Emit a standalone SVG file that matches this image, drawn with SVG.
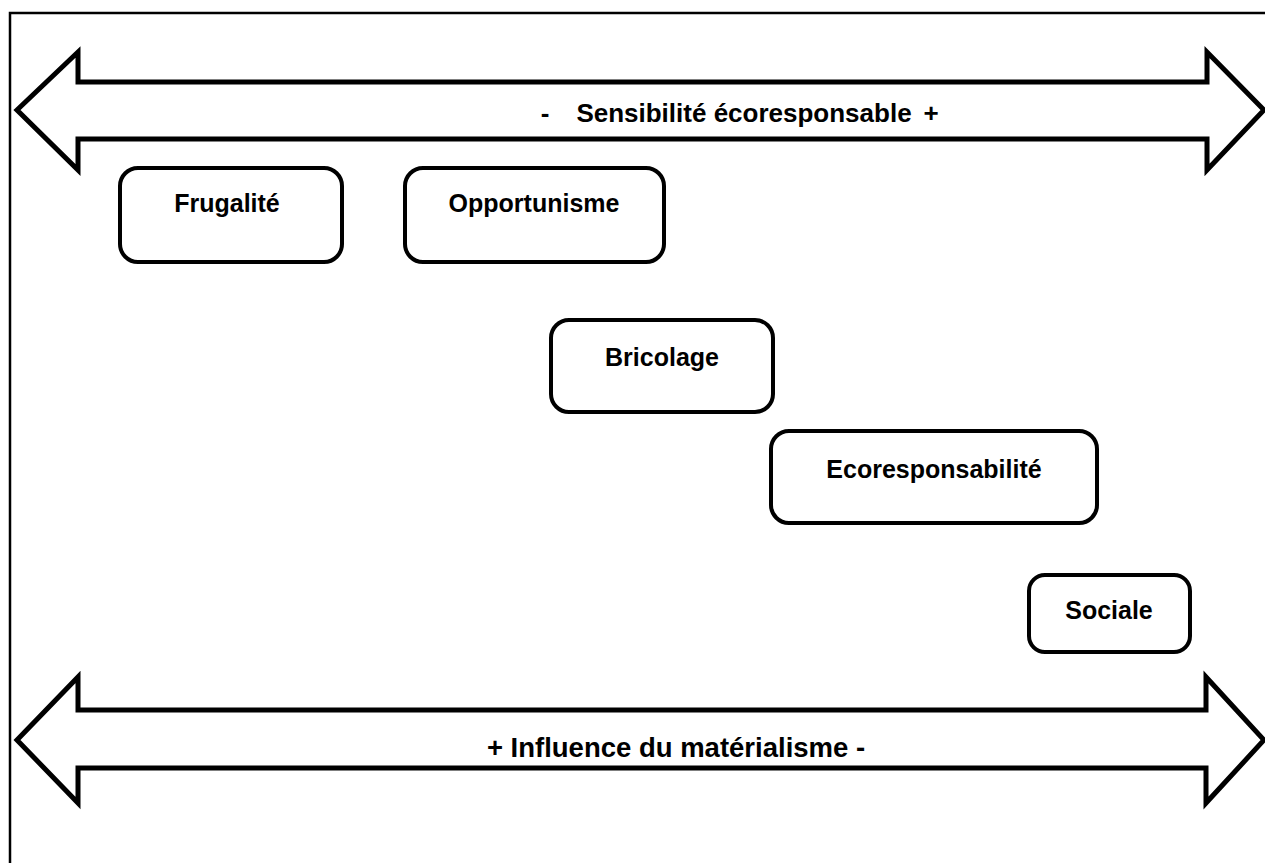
<svg xmlns="http://www.w3.org/2000/svg" width="1265" height="863" viewBox="0 0 1265 863">
<style>
.frame{fill:none;stroke:#000;stroke-width:2.5}
.arrow{fill:#fff;stroke:#000;stroke-width:5;stroke-linejoin:miter}
.box{fill:#fff;stroke:#000;stroke-width:4}
.t{font-family:"Liberation Sans",Arial,sans-serif;font-weight:bold;font-size:25px;fill:#000;text-anchor:middle}
.l{font-size:26px}
.b{font-size:27.5px}
</style>
<rect x="0" y="0" width="1265" height="863" fill="#fff"/>
<rect class="frame" x="10" y="13" width="1270" height="870"/>
<g id="connectors">
<g id="arrow-top">
<polygon class="arrow" points="17,110 78,52 78,82 1207,82 1207,52 1264,110 1207,170 1207,139 78,139 78,170"/>
<text class="t l" x="545" y="122">-</text>
<text class="t l" x="744" y="122">Sensibilité écoresponsable</text>
<text class="t l" x="931" y="122">+</text>
</g>
<g id="arrow-bottom">
<polygon class="arrow" points="17,740 78,677 78,710 1206,710 1206,677 1264,740 1206,803 1206,768 78,768 78,803"/>
<text class="t b" x="676" y="757">+ Influence du matérialisme -</text>
</g>
</g>
<g id="frugalite"><rect class="box" x="120" y="168" width="222" height="94" rx="18"/><text class="t" x="227" y="212">Frugalité</text></g>
<g id="opportunisme"><rect class="box" x="405" y="168" width="259" height="94" rx="18"/><text class="t" x="534" y="212">Opportunisme</text></g>
<g id="bricolage"><rect class="box" x="551" y="320" width="222" height="92" rx="18"/><text class="t" x="662" y="366">Bricolage</text></g>
<g id="ecoresponsabilite"><rect class="box" x="771" y="431" width="326" height="92" rx="18"/><text class="t" x="934" y="478">Ecoresponsabilité</text></g>
<g id="sociale"><rect class="box" x="1029" y="575" width="161" height="77" rx="16"/><text class="t" x="1109" y="619">Sociale</text></g>
</svg>
